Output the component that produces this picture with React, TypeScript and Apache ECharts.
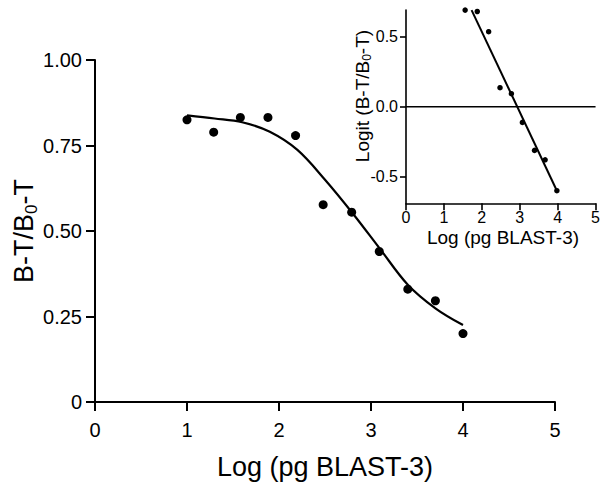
import React, { useEffect, useRef } from "react";
import * as echarts from "echarts";

// Main chart: binding data
const mainX = [1.0, 1.29, 1.58, 1.88, 2.18, 2.48, 2.79, 3.09, 3.4, 3.7, 4.0];
const mainY = [0.825, 0.789, 0.832, 0.832, 0.779, 0.577, 0.555, 0.44, 0.33, 0.296, 0.2];
// Main chart: fitted curve
const curveX = [1.0, 1.3, 1.6, 1.9, 2.2, 2.5, 2.8, 3.1, 3.4, 3.7, 4.0];
const curveY = [0.838, 0.829, 0.818, 0.79, 0.737, 0.65, 0.552, 0.447, 0.343, 0.274, 0.225];
// Main ticks
const mainYTicks = [0, 0.25, 0.5, 0.75, 1.0];

// Inset: logit data
const insetX = [1.56, 1.88, 2.18, 2.48, 2.78, 3.07, 3.39, 3.67, 3.98];
const insetY = [0.69, 0.68, 0.536, 0.136, 0.093, -0.112, -0.312, -0.379, -0.6];
// Inset: regression line end points
const fitX = [1.73, 3.98];
const fitY = [0.69, -0.6];
// Inset: zero reference line
const zeroX = [0, 5];
const zeroY = [0, 0];
const insetYTicks = [-0.5, 0, 0.5];

const FONT = "Liberation Sans";

export default function App() {
  const ref = useRef<HTMLDivElement>(null);
  useEffect(() => {
    if (!ref.current) return;
    const chart = echarts.init(ref.current, undefined, { renderer: "svg" });
    const zip = (xs: number[], ys: number[]) => xs.map((x, i) => [x, ys[i]]);
    chart.setOption({
      animation: false,
      backgroundColor: "#ffffff",
      textStyle: { fontFamily: FONT, color: "#000" },
      grid: [
        { left: 95, right: 48, top: 60, bottom: 80 },
        { left: 406, right: 4.7, top: 10.1, bottom: 278.7 },
      ],
      xAxis: [
        {
          gridIndex: 0,
          type: "value",
          min: 0,
          max: 5,
          interval: 1,
          splitLine: { show: false },
          axisLine: { show: true, onZero: false, lineStyle: { color: "#000", width: 2 } },
          axisTick: { show: true, length: 9, lineStyle: { color: "#000", width: 2 } },
          axisLabel: { color: "#000", fontSize: 20, fontFamily: FONT, margin: 18 },
        },
        {
          gridIndex: 1,
          type: "value",
          min: 0,
          max: 5,
          interval: 1,
          splitLine: { show: false },
          axisLine: { show: true, onZero: false, lineStyle: { color: "#000", width: 1.6 } },
          axisTick: { show: true, length: 7, lineStyle: { color: "#000", width: 1.6 } },
          axisLabel: { color: "#000", fontSize: 16, fontFamily: FONT, margin: 6 },
        },
      ],
      yAxis: [
        {
          gridIndex: 0,
          type: "value",
          min: 0,
          max: 1,
          interval: 0.25,
          splitLine: { show: false },
          axisLine: { show: true, onZero: false, lineStyle: { color: "#000", width: 2 } },
          axisTick: { show: true, length: 9, lineStyle: { color: "#000", width: 2 } },
          axisLabel: {
            color: "#000",
            fontSize: 20,
            fontFamily: FONT,
            margin: 13,
            customValues: mainYTicks,
            formatter: (v: number) => (v === 0 ? "0" : v.toFixed(2)),
          },
        },
        {
          gridIndex: 1,
          type: "value",
          min: -0.69,
          max: 0.69,
          splitLine: { show: false },
          axisLine: { show: true, onZero: false, lineStyle: { color: "#000", width: 1.6 } },
          axisTick: { show: true, length: 6, customValues: insetYTicks, lineStyle: { color: "#000", width: 1.6 } },
          axisLabel: {
            color: "#000",
            fontSize: 16,
            fontFamily: FONT,
            margin: 8,
            customValues: insetYTicks,
            formatter: (v: number) => v.toFixed(1),
          },
        },
      ],
      series: [
        {
          type: "line",
          xAxisIndex: 0,
          yAxisIndex: 0,
          data: zip(curveX, curveY),
          smooth: 0.35,
          showSymbol: false,
          lineStyle: { color: "#000", width: 2.2 },
        },
        {
          type: "scatter",
          xAxisIndex: 0,
          yAxisIndex: 0,
          data: zip(mainX, mainY),
          symbolSize: 9,
          itemStyle: { color: "#000", opacity: 1 },
        },
        {
          type: "line",
          xAxisIndex: 1,
          yAxisIndex: 1,
          data: zip(zeroX, zeroY),
          showSymbol: false,
          lineStyle: { color: "#000", width: 1.6 },
        },
        {
          type: "line",
          xAxisIndex: 1,
          yAxisIndex: 1,
          data: zip(fitX, fitY),
          showSymbol: false,
          lineStyle: { color: "#000", width: 2 },
        },
        {
          type: "scatter",
          xAxisIndex: 1,
          yAxisIndex: 1,
          data: zip(insetX, insetY),
          symbolSize: 5.5,
          itemStyle: { color: "#000", opacity: 1 },
        },
      ],
      graphic: [
        {
          type: "text",
          x: 325,
          y: 467,
          style: {
            text: "Log (pg BLAST-3)",
            fontFamily: FONT,
            fontSize: 27,
            fill: "#000",
            align: "center",
            verticalAlign: "middle",
          },
        },
        {
          type: "text",
          x: 24,
          y: 231,
          rotation: Math.PI / 2,
          style: {
            text: "B-T/B{s|0}-T",
            fontFamily: FONT,
            fontSize: 27,
            lineHeight: 31,
            fill: "#000",
            align: "center",
            verticalAlign: "middle",
            rich: {
              s: { fontFamily: FONT, fontSize: 17, lineHeight: 17, verticalAlign: "bottom", fill: "#000" },
            },
          },
        },
        {
          type: "text",
          x: 503,
          y: 237,
          style: {
            text: "Log (pg BLAST-3)",
            fontFamily: FONT,
            fontSize: 19,
            fill: "#000",
            align: "center",
            verticalAlign: "middle",
          },
        },
        {
          type: "text",
          x: 362,
          y: 96,
          rotation: Math.PI / 2,
          style: {
            text: "Logit (B-T/B{s|0}-T)",
            fontFamily: FONT,
            fontSize: 19,
            lineHeight: 22,
            fill: "#000",
            align: "center",
            verticalAlign: "middle",
            rich: {
              s: { fontFamily: FONT, fontSize: 12, lineHeight: 12, verticalAlign: "bottom", fill: "#000" },
            },
          },
        },
      ],
    });
    return () => chart.dispose();
  }, []);
  return (
    <div
      ref={ref}
      style={{ position: "absolute", left: 0, top: 0, width: 603, height: 482 }}
    />
  );
}
